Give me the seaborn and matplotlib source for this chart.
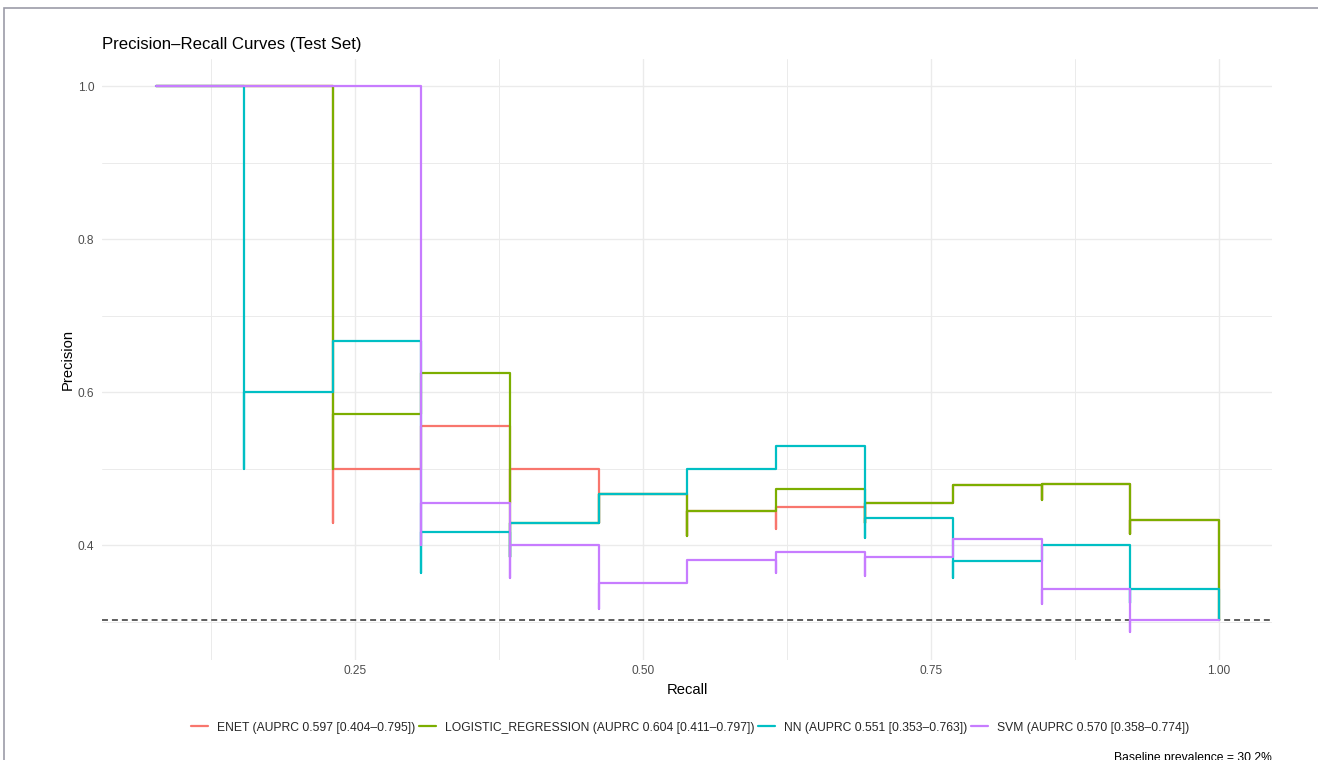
import matplotlib
matplotlib.use("Agg")
import matplotlib.pyplot as plt
from matplotlib.patches import Rectangle
from matplotlib.ticker import FixedLocator
import numpy as np
import pandas as pd
import seaborn as sns

# ---- data: precision-recall vertices per model (threshold order) ----
models = ["ENET", "LOGISTIC_REGRESSION", "NN", "SVM"]
legend_labels = [
    "ENET (AUPRC 0.597 [0.404\u20130.795])",
    "LOGISTIC_REGRESSION (AUPRC 0.604 [0.411\u20130.797])",
    "NN (AUPRC 0.551 [0.353\u20130.763])",
    "SVM (AUPRC 0.570 [0.358\u20130.774])",
]

enet_recall = [0.0769, 0.1538, 0.2308, 0.2308, 0.3077, 0.3846, 0.3846, 0.4615,
               0.4615, 0.5385, 0.5385, 0.6154, 0.6154, 0.6923, 0.6923, 0.7692,
               0.8462, 0.8462, 0.9231, 0.9231, 1.0, 1.0]
enet_precision = [1.0, 1.0, 1.0, 0.4286, 0.5, 0.5556, 0.4545, 0.5,
                  0.4286, 0.4667, 0.4118, 0.4444, 0.4211, 0.45, 0.4286, 0.4545,
                  0.4783, 0.4583, 0.48, 0.4138, 0.4333, 0.3023]

lr_recall = [0.0769, 0.1538, 0.2308, 0.2308, 0.3077, 0.3846, 0.3846, 0.4615,
             0.5385, 0.5385, 0.6154, 0.6923, 0.6923, 0.7692, 0.8462, 0.8462,
             0.9231, 0.9231, 1.0, 1.0]
lr_precision = [1.0, 1.0, 1.0, 0.5, 0.5714, 0.625, 0.3846, 0.4286,
                0.4667, 0.4118, 0.4444, 0.4737, 0.4286, 0.4545, 0.4783, 0.4583,
                0.48, 0.4138, 0.4333, 0.3023]

nn_recall = [0.0769, 0.1538, 0.1538, 0.2308, 0.3077, 0.3077, 0.3846, 0.3846,
             0.4615, 0.5385, 0.6154, 0.6923, 0.6923, 0.7692, 0.7692, 0.8462,
             0.9231, 0.9231, 1.0, 1.0]
nn_precision = [1.0, 1.0, 0.5, 0.6, 0.6667, 0.3636, 0.4167, 0.3846,
                0.4286, 0.4667, 0.5, 0.5294, 0.4091, 0.4348, 0.3571, 0.3793,
                0.4, 0.3243, 0.3421, 0.3023]

svm_recall = [0.0769, 0.1538, 0.2308, 0.3077, 0.3077, 0.3846, 0.3846, 0.4615,
              0.4615, 0.5385, 0.6154, 0.6154, 0.6923, 0.6923, 0.7692, 0.8462,
              0.8462, 0.9231, 0.9231, 1.0]
svm_precision = [1.0, 1.0, 1.0, 1.0, 0.4, 0.4545, 0.3571, 0.4,
                 0.3158, 0.35, 0.381, 0.3636, 0.3913, 0.36, 0.3846, 0.4074,
                 0.3235, 0.3429, 0.2857, 0.3023]

baseline_prevalence = 0.3023
colors = ["#F8766D", "#7CAE00", "#00BFC4", "#C77CFF"]

# ---- long-format table ----
frames = []
for label, rec, prec in zip(legend_labels,
                            [enet_recall, lr_recall, nn_recall, svm_recall],
                            [enet_precision, lr_precision, nn_precision, svm_precision]):
    frames.append(pd.DataFrame({"Recall": rec, "Precision": prec, "model": label}))
df = pd.concat(frames, ignore_index=True)

sns.set_theme(style="white")
plt.rcParams["font.family"] = ["Liberation Sans", "DejaVu Sans"]

W, H = 1318, 760
fig = plt.figure(figsize=(W / 100, H / 100), dpi=100)
fig.patch.set_facecolor("white")

px_left, px_right, px_top, px_bottom = 102.4, 1272.2, 58.7, 659.8
ax = fig.add_axes([px_left / W, 1 - px_bottom / H,
                   (px_right - px_left) / W, (px_bottom - px_top) / H])

sns.lineplot(data=df, x="Recall", y="Precision", hue="model",
             hue_order=legend_labels, palette=dict(zip(legend_labels, colors)),
             sort=False, estimator=None, drawstyle="steps-pre",
             linewidth=1.6, ax=ax)

ax.axhline(baseline_prevalence, color="#333333", lw=1.1,
           ls=(0, (3.9, 2.6)), zorder=1.5)

ax.margins(x=0.05, y=0.05)

# grid (minimal theme)
ax.xaxis.set_major_locator(FixedLocator([0.25, 0.5, 0.75, 1.0]))
ax.xaxis.set_minor_locator(FixedLocator([0.125, 0.375, 0.625, 0.875]))
ax.yaxis.set_major_locator(FixedLocator([0.4, 0.6, 0.8, 1.0]))
ax.yaxis.set_minor_locator(FixedLocator([0.3, 0.5, 0.7, 0.9]))
ax.set_xticklabels(["0.25", "0.50", "0.75", "1.00"])
ax.set_yticklabels(["0.4", "0.6", "0.8", "1.0"])
ax.grid(which="major", color="#EBEBEB", lw=1.0)
ax.grid(which="minor", color="#EBEBEB", lw=0.7)
ax.set_axisbelow(True)
for s in ax.spines.values():
    s.set_visible(False)
ax.tick_params(which="both", length=0)
ax.tick_params(axis="x", pad=4, labelsize=8.6, labelcolor="#4D4D4D")
ax.tick_params(axis="y", pad=6, labelsize=8.6, labelcolor="#4D4D4D")

ax.set_xlabel("Recall", fontsize=10.6, color="black")
ax.set_ylabel("Precision", fontsize=10.6, color="black")
ax.xaxis.set_label_coords(0.5, -(690 - px_bottom) / (px_bottom - px_top))
ax.xaxis.label.set_va("center")
ax.yaxis.set_label_coords((68 - px_left) / (px_right - px_left), 0.5)
ax.yaxis.label.set_va("center")

fig.text(px_left / W, 1 - 49.5 / H, "Precision\u2013Recall Curves (Test Set)",
         fontsize=12.1, color="black", ha="left", va="baseline")

sns.move_legend(ax, "center", bbox_to_anchor=(690 / W, 1 - 727.7 / H),
                bbox_transform=fig.transFigure, ncol=4, frameon=False,
                title=None, fontsize=8.7, handlelength=1.4,
                handletextpad=0.75, columnspacing=0.3)
for line in ax.get_legend().get_lines():
    line.set_linewidth(1.6)

fig.text(px_right / W, 1 - 761 / H, "Baseline prevalence = 30.2%",
         fontsize=8.7, color="black", ha="right", va="baseline")

# outer frame line along the top and left edges
fig.patches.append(Rectangle((4.3 / W, -0.1), 1.2, 1.1 - 7.5 / H,
                             transform=fig.transFigure, fill=False,
                             edgecolor="#9C9CA8", lw=1.2, figure=fig))

fig.savefig("out.png", dpi=100)
